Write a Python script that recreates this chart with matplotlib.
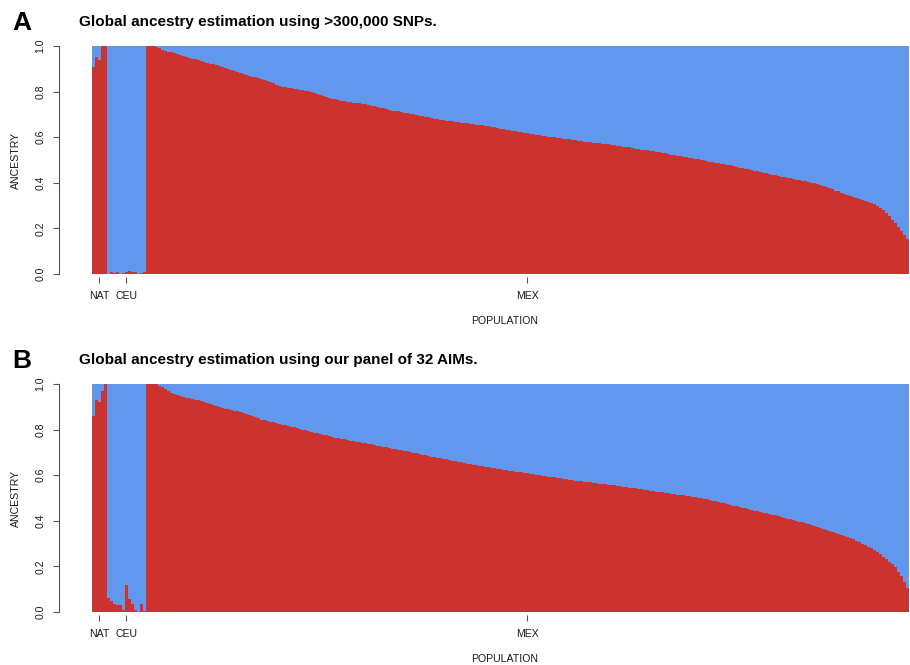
import numpy as np
import matplotlib
matplotlib.use("Agg")
import matplotlib.pyplot as plt

plt.rcParams['font.family'] = ['Liberation Sans', 'DejaVu Sans']

RED = '#CC332F'
BLUE = '#6198EE'

groups = ['NAT', 'CEU', 'MEX']

# Proportion of the first (red) ancestral component per individual, >300,000 SNPs
nat_snps = [0.91, 0.95, 0.94, 1.00, 1.00]
ceu_snps = [0.00, 0.01, 0.005, 0.01, 0.00, 0.005, 0.01, 0.015, 0.01, 0.01, 0.00, 0.005, 0.01]
mex_snps = [
    1.00, 1.00, 1.00, 0.995,
    0.99, 0.982, 0.978, 0.975, 0.972, 0.968, 0.964, 0.96, 0.955,
    0.952, 0.949, 0.945, 0.942, 0.938, 0.935, 0.931, 0.927, 0.923,
    0.919, 0.915, 0.911, 0.907, 0.903, 0.899, 0.895, 0.891, 0.887, 0.882,
    0.878, 0.874, 0.870, 0.866, 0.862, 0.858, 0.854, 0.850, 0.845, 0.841,
    0.836, 0.831, 0.826, 0.821,
    0.819, 0.817, 0.815, 0.812, 0.810, 0.808, 0.806, 0.803, 0.801,
    0.797, 0.793, 0.789, 0.785, 0.781, 0.777, 0.773, 0.769, 0.766, 0.762,
    0.760, 0.758, 0.756, 0.754, 0.752, 0.750, 0.749, 0.747,
    0.744, 0.741, 0.738, 0.735, 0.732, 0.729, 0.726, 0.723, 0.720, 0.717, 0.715, 0.713, 0.711,
    0.708, 0.706, 0.703, 0.700, 0.698, 0.695, 0.692, 0.690, 0.687, 0.684, 0.682, 0.679, 0.677, 0.674,
    0.672, 0.671, 0.669, 0.667, 0.666, 0.664, 0.662, 0.661, 0.659, 0.657, 0.655, 0.654, 0.652, 0.650, 0.648,
    0.645, 0.643, 0.640, 0.638, 0.636, 0.633, 0.631, 0.628, 0.626, 0.624, 0.621, 0.619, 0.617, 0.615,
    0.613, 0.611, 0.609, 0.607, 0.605, 0.603, 0.601, 0.599, 0.597, 0.595, 0.594, 0.592, 0.590, 0.588, 0.586,
    0.584, 0.583, 0.581, 0.579, 0.578, 0.576, 0.574, 0.573, 0.571, 0.570, 0.568, 0.566, 0.565, 0.563,
    0.561, 0.559, 0.557, 0.555, 0.553, 0.550, 0.548, 0.546, 0.544, 0.542, 0.540, 0.538, 0.535, 0.533, 0.531,
    0.529, 0.526, 0.524, 0.521, 0.519, 0.517, 0.514, 0.512, 0.510, 0.507, 0.505,
    0.503, 0.500, 0.498, 0.496, 0.493, 0.491, 0.488, 0.486, 0.484, 0.481, 0.479,
    0.476, 0.473, 0.470, 0.467, 0.464, 0.461, 0.459, 0.456, 0.453, 0.450, 0.447,
    0.444, 0.441, 0.438, 0.436, 0.433, 0.430, 0.427, 0.424, 0.421, 0.419, 0.416,
    0.414, 0.411, 0.409, 0.406, 0.403, 0.400, 0.397, 0.394, 0.391,
    0.386, 0.381, 0.376, 0.371, 0.366, 0.362, 0.357,
    0.352, 0.347, 0.342, 0.338, 0.333, 0.328,
    0.324, 0.320, 0.316, 0.312, 0.308,
    0.300, 0.291, 0.280, 0.267,
    0.253, 0.238, 0.223,
    0.205, 0.188, 0.170, 0.152,
]

# Same individuals, estimated with the panel of 32 AIMs
nat_aims = [0.86, 0.93, 0.92, 0.97, 1.00]
ceu_aims = [0.06, 0.05, 0.035, 0.03, 0.03, 0.01, 0.12, 0.055, 0.035, 0.01, 0.00, 0.035, 0.005]
mex_aims = [
    1.00, 1.00, 1.00, 0.998,
    0.992, 0.986, 0.978, 0.970, 0.961,
    0.956, 0.951, 0.947, 0.943,
    0.940, 0.937, 0.934, 0.931, 0.928, 0.925,
    0.921, 0.917, 0.912, 0.908, 0.904, 0.899, 0.895,
    0.892, 0.889, 0.886, 0.883, 0.880, 0.876, 0.873,
    0.868, 0.863, 0.858, 0.854, 0.849, 0.844,
    0.841, 0.838, 0.835, 0.832, 0.828, 0.825, 0.822,
    0.819, 0.816, 0.813, 0.810, 0.806, 0.803, 0.800,
    0.797, 0.794, 0.790, 0.787, 0.784, 0.781,
    0.778, 0.775, 0.771, 0.768, 0.765, 0.762, 0.759,
    0.757, 0.754, 0.752, 0.749, 0.747, 0.744, 0.742,
    0.740, 0.737, 0.735, 0.732, 0.730, 0.727,
    0.724, 0.722, 0.719, 0.717, 0.714, 0.712, 0.709,
    0.706, 0.704, 0.701, 0.698, 0.696, 0.693, 0.690, 0.687, 0.685, 0.682, 0.679, 0.677, 0.674, 0.671,
    0.669, 0.666, 0.664, 0.661, 0.659, 0.656, 0.654, 0.651, 0.649, 0.646, 0.644, 0.642, 0.640, 0.637, 0.635,
    0.633, 0.631, 0.629, 0.627, 0.625, 0.622, 0.620, 0.618, 0.616, 0.614, 0.612, 0.610, 0.608, 0.606,
    0.604, 0.602, 0.600, 0.598, 0.596, 0.594, 0.592, 0.590, 0.588, 0.586, 0.584, 0.582, 0.580, 0.578, 0.576,
    0.574, 0.573, 0.571, 0.570, 0.568, 0.566, 0.565, 0.563, 0.562, 0.560, 0.559, 0.557, 0.556, 0.554,
    0.552, 0.550, 0.548, 0.546, 0.544, 0.542, 0.540, 0.538, 0.536, 0.534, 0.532, 0.530, 0.528, 0.527, 0.525,
    0.523, 0.521, 0.519, 0.517, 0.515, 0.513, 0.511, 0.509, 0.507, 0.505, 0.503, 0.502, 0.500,
    0.497, 0.494, 0.491, 0.488, 0.485, 0.482, 0.479, 0.476, 0.472, 0.469, 0.466, 0.463, 0.460,
    0.457, 0.454, 0.451, 0.448, 0.445, 0.442, 0.439, 0.436, 0.433, 0.430, 0.427, 0.424, 0.420, 0.417,
    0.414, 0.410, 0.407, 0.403, 0.400, 0.396, 0.393, 0.389, 0.385, 0.382, 0.378,
    0.374, 0.370, 0.366, 0.361, 0.357, 0.352, 0.348, 0.343, 0.339, 0.334, 0.329,
    0.324, 0.318, 0.312, 0.306, 0.300, 0.294, 0.287, 0.280, 0.273,
    0.264, 0.254, 0.243, 0.232, 0.221,
    0.210, 0.198, 0.177, 0.160, 0.130, 0.105,
]

panels = [
    ('A', 'Global ancestry estimation using >300,000 SNPs.', [nat_snps, ceu_snps, mex_snps]),
    ('B', 'Global ancestry estimation using our panel of 32 AIMs.', [nat_aims, ceu_aims, mex_aims]),
]

W, H = 910, 665
fig = plt.figure(figsize=(W / 100, H / 100), dpi=100)
PX = 72 / 100  # points per pixel at this dpi

ax_left, ax_right = 92, 909
panel_tops = [46, 384]
panel_h = 228
TXT = '#1a1a1a'
AXC = '#555555'

for (letter, title, data), top in zip(panels, panel_tops):
    ax = fig.add_axes([ax_left / W, 1 - (top + panel_h) / H,
                       (ax_right - ax_left) / W, panel_h / H])
    red = np.concatenate([np.asarray(d, float) for d in data])
    x = np.arange(len(red))
    ax.bar(x, red, width=1.0, color=RED, edgecolor=RED, linewidth=0.3, antialiased=False)
    ax.bar(x, 1 - red, bottom=red, width=1.0, color=BLUE, edgecolor=BLUE,
           linewidth=0.3, antialiased=False)
    # keep the red component on top where the two touch
    ax.bar(x, red, width=1.0, color=RED, linewidth=0, antialiased=False)

    # group tick positions at the centre of each population block
    sizes = [len(d) for d in data]
    starts = np.cumsum([0] + sizes[:-1])
    centers = [s + (n - 1) / 2 for s, n in zip(starts, sizes)]

    ax.set_xlim(-0.5, len(red) - 0.5)
    ax.set_ylim(0, 1)
    ax.set_xticks(centers)
    ax.set_xticklabels(groups)
    yt = np.arange(0, 1.01, 0.2)
    ax.set_yticks(yt)
    ax.set_yticklabels([f'{v:.1f}' for v in yt])

    for side in ('top', 'right', 'bottom'):
        ax.spines[side].set_visible(False)
    ax.spines['bottom'].set_position(('outward', 3 * PX))
    ax.spines['left'].set_position(('outward', 33 * PX))
    ax.spines['left'].set_bounds(0, 1)
    ax.spines['left'].set_color(AXC)
    ax.spines['left'].set_linewidth(0.8)

    ax.tick_params(axis='x', direction='out', length=6 * PX, width=0.8, color=AXC,
                   labelsize=7.6, labelcolor=TXT, pad=5.6)
    ax.tick_params(axis='y', direction='out', length=6 * PX, width=0.8, color=AXC,
                   labelsize=7.6, labelcolor=TXT, pad=5.3, labelrotation=90)
    for lab in ax.get_yticklabels():
        lab.set_verticalalignment('center')

    fig.text(12 / W, 1 - (top - 23) / H, letter, fontsize=19, fontweight='bold',
             ha='left', va='center', color='black')
    fig.text(79 / W, 1 - (top - 24) / H, title, fontsize=11, fontweight='bold',
             ha='left', va='center', color='black')
    fig.text(16 / W, 1 - (top + panel_h / 2) / H, 'ANCESTRY', fontsize=7.6,
             rotation=90, ha='center', va='center', color=TXT)
    fig.text(505 / W, 1 - (top + panel_h + 47) / H, 'POPULATION', fontsize=7.6,
             ha='center', va='center', color=TXT)

fig.savefig('out.png', dpi=100)
